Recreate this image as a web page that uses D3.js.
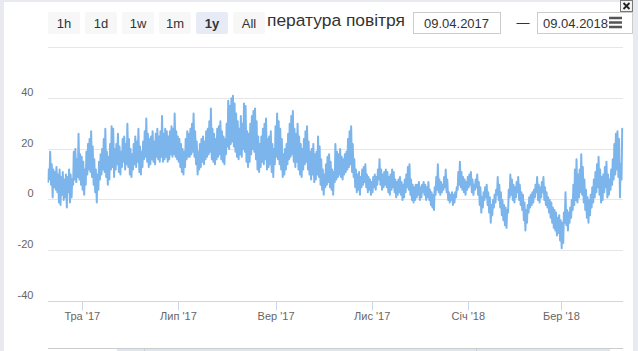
<!DOCTYPE html>
<html><head><meta charset="utf-8">
<script src="https://cdn.jsdelivr.net/npm/d3@7"></script>
<style>
html,body{margin:0;padding:0;background:#e8eaf0;overflow:hidden;}
svg{display:block;}
text{font-family:"Liberation Sans",Arial,sans-serif;}
</style></head><body>
<svg id="c" width="638" height="351"></svg>
<script>
// ---------- data ----------
const titleVisible = "пература повітря"; // visible part of "Температура повітря" (start hidden by the buttons)
const buttons = ["1h","1d","1w","1m","1y","All"];
const selectedButton = "1y";
const rangeFrom = "09.04.2017";
const rangeTo = "09.04.2018";
const startDate = new Date(2017,3,9);
const endDate = new Date(2018,3,9);
const yTicks = [-40,-20,0,20,40,60];
const xTickDates = [new Date(2017,4,1),new Date(2017,6,1),new Date(2017,8,1),new Date(2017,10,1),new Date(2018,0,1),new Date(2018,2,1)];
const xTickLabels = ["Тра '17","Лип '17","Вер '17","Лис '17","Січ '18","Бер '18"];
// daily maximum temperature, from 09.04.2017
const tMax = [
12,19,14,12,11,13,10,12,9,11,
8,10,9,12,10,8,19,20,16,26,
18,17,15,12,19,22,24,27,21,16,
12,10,15,18,20,24,28,19,17,22,
29,28,20,22,26,21,19,24,25,22,
30,24,20,18,22,25,23,28,21,19,
23,27,32,26,24,25,27,23,26,28,
25,27,33,26,28,27,25,27,29,28,
34,27,25,24,22,20,19,24,27,26,
28,30,34,27,23,19,22,24,25,23,
27,28,31,36,28,26,24,28,29,31,
27,25,24,30,39,37,40,41,38,34,
31,28,33,30,38,37,27,26,30,33,
35,36,31,25,22,25,28,30,32,24,
25,27,22,20,29,34,31,28,24,18,
20,22,26,30,33,35,28,26,30,25,
22,20,24,27,29,23,19,20,22,18,
19,25,21,16,12,10,14,17,18,15,
12,11,22,19,18,20,17,16,18,19,
24,27,29,22,16,12,10,11,9,12,
13,14,10,9,8,7,9,10,9,12,
16,12,10,11,12,11,9,10,12,11,
8,7,8,9,7,6,8,10,13,14,
8,6,5,6,6,7,5,6,7,6,
5,7,4,3,2,5,9,14,8,7,
6,9,12,8,3,2,3,2,3,5,
11,15,11,9,8,7,9,10,11,8,
6,8,10,7,5,1,3,5,6,3,
1,-2,0,2,4,9,6,3,0,-2,
-3,-4,4,10,8,6,5,7,9,6,
3,2,-1,-4,-2,1,2,3,4,6,
9,6,5,7,9,5,3,1,0,-1,
-3,-4,-5,-7,-6,-8,-9,-5,3,-4,
-5,-3,0,6,12,16,10,12,18,13,
8,4,1,0,2,5,8,11,14,17,
12,9,10,13,15,10,8,12,16,22,
26,27,24,14,28
];
// daily minimum temperature, from 09.04.2017
const tMin = [
7,8,6,1,5,4,3,-1,-2,2,
0,1,-3,3,-1,1,6,8,7,9,
8,6,4,2,6,10,12,11,9,6,
3,-1,4,8,10,12,11,9,6,8,
12,13,9,12,14,11,10,13,15,12,
14,13,10,9,12,14,13,15,11,10,
13,16,17,15,13,14,16,15,14,17,
16,15,17,15,16,17,15,16,18,17,
18,17,16,15,13,11,10,13,16,17,
17,18,19,17,14,10,12,13,15,14,
16,17,18,19,16,15,14,16,17,18,
16,15,14,18,21,20,22,23,21,19,
17,16,18,17,20,19,15,13,15,18,
20,19,16,12,11,13,15,14,16,12,
13,14,11,9,14,17,16,14,12,9,
10,12,14,16,17,18,15,13,15,12,
10,9,12,14,15,12,10,8,10,7,
8,10,9,6,4,2,5,6,7,5,
4,2,7,8,9,10,9,8,10,11,
12,13,14,11,9,5,3,4,2,5,
6,7,5,3,4,2,3,5,4,6,
8,6,4,5,6,5,3,2,4,5,
3,1,2,3,2,0,1,3,5,4,
2,0,-1,0,1,2,0,1,3,2,
0,1,0,-2,-3,-4,2,4,3,2,
3,4,5,3,0,-1,0,-2,-1,1,
4,6,5,4,3,2,4,5,6,3,
2,4,5,2,-2,-5,-3,0,1,-2,
-5,-9,-6,-3,-1,2,0,-3,-6,-8,
-10,-11,-5,1,2,0,-1,1,3,0,
-2,-4,-8,-12,-9,-5,-3,-2,-1,1,
3,0,-1,1,3,0,-2,-3,-5,-7,
-9,-11,-12,-14,-13,-16,-19,-17,-9,-10,
-12,-9,-7,-4,-2,0,-1,1,3,2,
-1,-4,-7,-9,-6,-3,-1,1,3,5,
2,-1,0,3,5,1,2,4,6,8,
10,12,9,1,8
];

// ---------- layout ----------
const W = 638, H = 351;
const plot = {left: 47.6, right: 622.8, top: 47.5, bottom: 301.5};
const svg = d3.select("#c");

// white chart panel
svg.append("rect").attr("x",4).attr("y",2).attr("width",629).attr("height",H-2).attr("fill","#ffffff");

const x = d3.scaleTime().domain([startDate,endDate]).range([plot.left,plot.right]);
const y = d3.scaleLinear().domain([-40,60]).range([plot.bottom,plot.top]);
const crisp = v => Math.floor(v)+0.5;

// grid lines
svg.append("g").selectAll("line").data(yTicks).join("line")
  .attr("x1",48).attr("x2",623)
  .attr("y1",d=>crisp(y(d))).attr("y2",d=>crisp(y(d)))
  .attr("stroke",d=>d===-40?"#ccd6eb":"#e6e6e6").attr("stroke-width",1);

// y labels (60 not shown)
svg.append("g").selectAll("text").data(yTicks.filter(d=>d<60)).join("text")
  .attr("x",33.5).attr("y",d=>crisp(y(d))-2.5)
  .attr("text-anchor","end").attr("font-size",11).attr("fill","#666666")
  .text(d=>d);

// series: daily minimum then maximum
const pts = [];
tMax.forEach((mx,i)=>{
  const day = d3.timeDay.offset(startDate,i);
  pts.push([d3.timeHour.offset(day,5), tMin[i]]);
  pts.push([d3.timeHour.offset(day,15), mx]);
});
svg.append("clipPath").attr("id","pc").append("rect")
  .attr("x",plot.left).attr("y",plot.top-10).attr("width",plot.right-plot.left+1).attr("height",plot.bottom-plot.top+10);
svg.append("path").datum(pts)
  .attr("clip-path","url(#pc)")
  .attr("fill","none").attr("stroke","#7cb5ec").attr("stroke-width",2)
  .attr("stroke-linejoin","round").attr("stroke-linecap","round")
  .attr("d",d3.line().x(d=>x(d[0])).y(d=>y(d[1])));

// x axis ticks and labels
const xg = svg.append("g");
xg.selectAll("line").data(xTickDates).join("line")
  .attr("x1",d=>crisp(x(d))).attr("x2",d=>crisp(x(d)))
  .attr("y1",plot.bottom).attr("y2",plot.bottom+9)
  .attr("stroke","#ccd6eb");
xg.selectAll("text").data(xTickDates).join("text")
  .attr("x",d=>x(d)).attr("y",320)
  .attr("text-anchor","middle").attr("font-size",11).attr("fill","#666666")
  .text((d,i)=>xTickLabels[i]);

// navigator / scrollbar top edge
svg.append("line").attr("x1",48).attr("x2",623).attr("y1",348.5).attr("y2",348.5).attr("stroke","#cccccc");
svg.append("rect").attr("x",117).attr("y",349).attr("width",493).attr("height",3).attr("fill","#dfe5ef");
[144,476].forEach(v=>svg.append("line").attr("x1",v+0.5).attr("x2",v+0.5).attr("y1",349).attr("y2",351).attr("stroke","#c5cfdd"));

// title (its start is hidden behind the range buttons)
svg.append("text").attr("x",267).attr("y",26).attr("font-size",17.4).attr("fill","#333333").text(titleVisible);

// range selector buttons
const bg = svg.append("g");
buttons.forEach((b,i)=>{
  const bx = 48 + i*37;
  const sel = b===selectedButton;
  bg.append("rect").attr("x",bx).attr("y",12).attr("width",32).attr("height",22).attr("rx",2)
    .attr("fill",sel?"#e6ebf5":"#f7f7f7");
  bg.append("text").attr("x",bx+16).attr("y",27.5).attr("text-anchor","middle")
    .attr("font-size",13).attr("font-weight",sel?"bold":"normal").attr("fill","#333333").text(b);
});

// date inputs
const inputs = [{x:413,w:87,t:rangeFrom},{x:537,w:95,t:rangeTo}];
inputs.forEach(inp=>{
  svg.append("rect").attr("x",inp.x+0.5).attr("y",12.5).attr("width",inp.w).attr("height",21)
    .attr("fill","#ffffff").attr("stroke","#cccccc");
});
svg.append("text").attr("x",424).attr("y",27.5).attr("font-size",13).attr("fill","#333333").text(rangeFrom);
svg.append("text").attr("x",543).attr("y",27.5).attr("font-size",13).attr("fill","#333333").text(rangeTo);
svg.append("text").attr("x",523).attr("y",27).attr("text-anchor","middle").attr("font-size",13).attr("fill","#333333").text("—");

// grey strip on the right
svg.append("rect").attr("x",633).attr("y",0).attr("width",5).attr("height",H).attr("fill","#e8eaf0");

// context menu (hamburger)
[18,22.5,27].forEach(v=>svg.append("line").attr("x1",609).attr("x2",622).attr("y1",v).attr("y2",v)
  .attr("stroke","#555555").attr("stroke-width",2.5));

// close button
svg.append("rect").attr("x",620.5).attr("y",0.5).attr("width",12).attr("height",11).attr("fill","#f4f4f4").attr("stroke","#777777");
svg.append("path").attr("d","M623.5,3 L629.5,9 M629.5,3 L623.5,9").attr("stroke","#222222").attr("stroke-width",1.8);
</script>
</body></html>
